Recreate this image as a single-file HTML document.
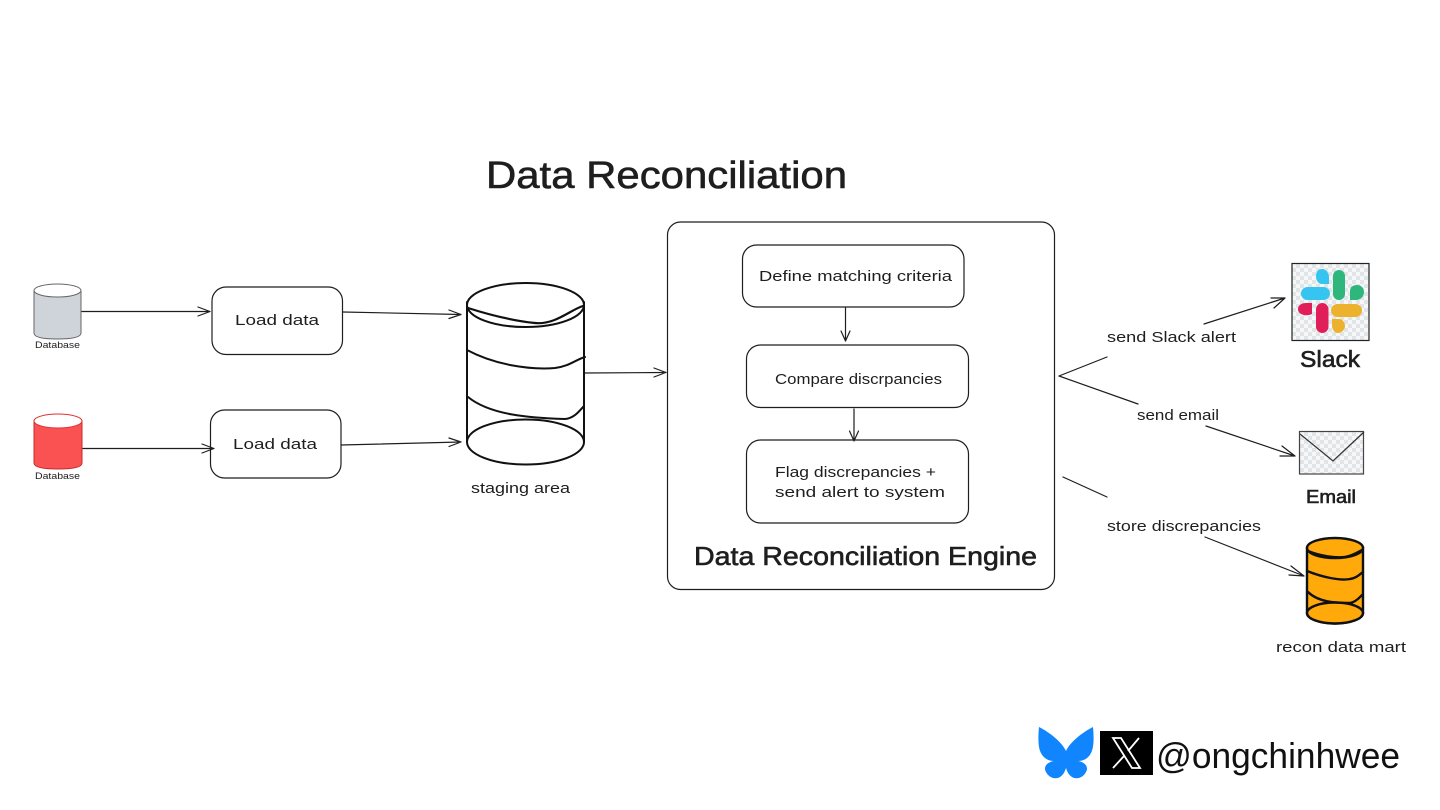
<!DOCTYPE html>
<html>
<head>
<meta charset="utf-8">
<style>
html,body{margin:0;padding:0;background:#fff;width:1440px;height:810px;overflow:hidden}
svg{display:block}
text{font-family:"Liberation Sans",sans-serif;fill:#1e1e1e}
.h{stroke:#1e1e1e;stroke-width:.6px}
</style>
</head>
<body>
<svg width="1440" height="810" viewBox="0 0 1440 810" xmlns="http://www.w3.org/2000/svg">
<defs>
<pattern id="ck" width="8" height="8" patternUnits="userSpaceOnUse">
<rect width="8" height="8" fill="#f6f7f8"/>
<rect width="4" height="4" fill="#e2e5e8"/>
<rect x="4" y="4" width="4" height="4" fill="#e2e5e8"/>
</pattern>
</defs>
<rect width="1440" height="810" fill="#fff"/>

<text class="h" x="486" y="188" font-size="38" textLength="361" lengthAdjust="spacingAndGlyphs">Data Reconciliation</text>

<!-- small db gray -->
<path d="M34 291V333Q34 339 57 339Q81 339 81 333V291Z" fill="#ced4da" stroke="#666" stroke-width="1"/>
<ellipse cx="57.500" cy="290.500" rx="23.500" ry="6.500" fill="#fff" stroke="#666" stroke-width="1"/>
<text x="35" y="348" font-size="9" textLength="45" lengthAdjust="spacingAndGlyphs">Database</text>
<!-- small db red -->
<path d="M34 421V463Q34 469 58 469Q82 469 82 463V421Z" fill="#fa5252" stroke="#c92a2a" stroke-width="1"/>
<ellipse cx="58" cy="421" rx="24" ry="7" fill="#fff" stroke="#e03131" stroke-width="1"/>
<text x="35" y="479" font-size="9" textLength="45" lengthAdjust="spacingAndGlyphs">Database</text>

<g fill="none" stroke="#1e1e1e" stroke-width="1.200" stroke-linecap="round" stroke-linejoin="round">
<!-- load boxes -->
<rect x="212" y="287" width="130.500" height="67.500" rx="14"/>
<rect x="210.500" y="410" width="130.500" height="68" rx="14"/>
<!-- arrows left -->
<path d="M82 311.500L210 311.500M198 307L210 311.500L198 316"/>
<path d="M83 448.500L214 448.500M202 444L214 448.500L202 453"/>
<path d="M343 312L461 314.500M449 310L461 314.500L449 318.500"/>
<path d="M341 445L461 442M449 438L461 442L449 446.500"/>
<path d="M585 373L666 372.500M654 368L666 372.500L654 377"/>
<!-- engine -->
<rect x="667.500" y="222" width="387" height="367.500" rx="13"/>
<rect x="742.500" y="245" width="221.500" height="62" rx="14"/>
<rect x="746.500" y="345" width="222" height="62.500" rx="14"/>
<rect x="746.500" y="440" width="222" height="83" rx="14"/>
<path d="M845.500 308V341M841 331L845.500 341L850 331"/>
<path d="M854 409V441M849.500 431L854 441L858.500 431"/>
<!-- right arrows -->
<path d="M1059 376L1107 357M1204 324L1285 298M1271 298L1285 298L1274 308"/>
<path d="M1059 376L1138 404M1206 426L1295 456M1282 446L1295 456L1280 456"/>
<path d="M1063 477L1107 497M1205 537L1304 576M1291 566L1304 576L1289 575"/>
</g>

<text x="235" y="325" font-size="15" textLength="84" lengthAdjust="spacingAndGlyphs">Load data</text>
<text x="233" y="449" font-size="15" textLength="84" lengthAdjust="spacingAndGlyphs">Load data</text>
<text x="471" y="493" font-size="14.500" textLength="99" lengthAdjust="spacingAndGlyphs">staging area</text>
<text x="759" y="281" font-size="15" textLength="193" lengthAdjust="spacingAndGlyphs">Define matching criteria</text>
<text x="775" y="384" font-size="15" textLength="167" lengthAdjust="spacingAndGlyphs">Compare discrpancies</text>
<text x="775" y="477" font-size="15" textLength="161" lengthAdjust="spacingAndGlyphs">Flag discrepancies +</text>
<text x="775" y="497" font-size="15" textLength="170" lengthAdjust="spacingAndGlyphs">send alert to system</text>
<text class="h" x="694" y="565" font-size="26" textLength="343" lengthAdjust="spacingAndGlyphs">Data Reconciliation Engine</text>
<text x="1107" y="342" font-size="15" textLength="129" lengthAdjust="spacingAndGlyphs">send Slack alert</text>
<text x="1137" y="420" font-size="15" textLength="82" lengthAdjust="spacingAndGlyphs">send email</text>
<text x="1107" y="531" font-size="15" textLength="154" lengthAdjust="spacingAndGlyphs">store discrepancies</text>
<text class="h" x="1300" y="367" font-size="23" textLength="60" lengthAdjust="spacingAndGlyphs">Slack</text>
<text class="h" x="1306" y="503" font-size="18" textLength="50" lengthAdjust="spacingAndGlyphs">Email</text>
<text x="1276" y="652" font-size="14.500" textLength="130" lengthAdjust="spacingAndGlyphs">recon data mart</text>

<!-- staging cylinder -->
<g fill="none" stroke="#111" stroke-width="2" stroke-linecap="round">
<ellipse cx="525.500" cy="305" rx="58.500" ry="22"/>
<ellipse cx="525.500" cy="442" rx="58.500" ry="22.500"/>
<path d="M467 302V442M584 302V442"/>
<path d="M468 308C490 315 515 321 535 323C555 325 570 310 583 306" stroke-width="2.200"/>
<path d="M467 350C495 365 530 370 555 368C570 366 575 360 585 357"/>
<path d="M468 397C490 415 530 418 565 419C575 418 580 410 584 406"/>
</g>

<!-- slack -->
<rect x="1292" y="263.500" width="77" height="77" fill="url(#ck)" stroke="#222" stroke-width="1.200"/>
<path d="M1322 269C1326 269 1329 273 1329 277V284H1322C1318 284 1316 280 1316 276C1316 272 1318 269 1322 269Z" fill="#36c5f0"/>
<rect x="1301" y="287" width="29" height="13" rx="6.500" fill="#36c5f0"/>
<rect x="1333" y="270" width="12" height="30" rx="6" fill="#2eb67d"/>
<path d="M1350 300V291C1350 287 1353 285 1357 285C1361 285 1364 288 1364 292C1364 297 1360 300 1356 300Z" fill="#2eb67d"/>
<path d="M1312 303V314C1308 316 1298 316 1298 309C1298 305 1302 303 1306 303Z" fill="#e01e5a"/>
<rect x="1316" y="303" width="12.500" height="30" rx="6.250" fill="#e01e5a"/>
<rect x="1331" y="304" width="31" height="13" rx="6.500" fill="#ecb22e"/>
<path d="M1332 319H1339C1343 319 1345 323 1345 326C1345 330 1341 333 1338 333C1334 333 1332 329 1332 325Z" fill="#ecb22e"/>

<!-- email -->
<rect x="1299.500" y="431.500" width="64" height="42.500" fill="url(#ck)" stroke="#444" stroke-width="1.200"/>
<path d="M1300 434L1333 461L1364 432" fill="none" stroke="#333" stroke-width="1.200"/>

<!-- orange cylinder -->
<g stroke="#111" stroke-width="2.400" stroke-linecap="round">
<path d="M1307 548V613A28 10.500 0 0 0 1363 613V548Z" fill="#ffa90a"/>
<ellipse cx="1335" cy="548" rx="28" ry="10" fill="#ffa90a"/>
<ellipse cx="1335" cy="613" rx="28" ry="10.500" fill="#ffa90a"/>
<path d="M1308 551C1320 556 1335 558 1345 557C1352 556 1358 552 1362 550" fill="none"/>
<path d="M1307 571C1322 577 1340 581 1350 579C1357 578 1360 574 1363 572" fill="none"/>
<path d="M1308 592C1318 602 1335 603 1350 603C1356 602 1360 597 1362 595" fill="none"/>
</g>

<!-- butterfly -->
<path d="M1039 727C1049 732 1062 742 1066 751C1070 742 1083 732 1093 727C1094 737 1094 748 1091 753C1088 759 1083 761 1078 761C1085 762 1089 767 1086 772C1082 780 1070 782 1066 768C1062 782 1050 780 1046 772C1043 767 1047 762 1054 761C1049 761 1044 759 1041 753C1038 748 1038 737 1039 727Z" fill="#1185fe"/>

<!-- X -->
<rect x="1100" y="731" width="53" height="44" fill="#000"/>
<path d="M1113 738H1121L1140 768H1132Z" fill="none" stroke="#fff" stroke-width="1.800"/>
<path d="M1139 738L1128 751M1124 756L1113 768" fill="none" stroke="#fff" stroke-width="1.800"/>

<text x="1156" y="768" font-size="36" textLength="244" lengthAdjust="spacingAndGlyphs" style="fill:#111">@ongchinhwee</text>
</svg>
</body>
</html>
